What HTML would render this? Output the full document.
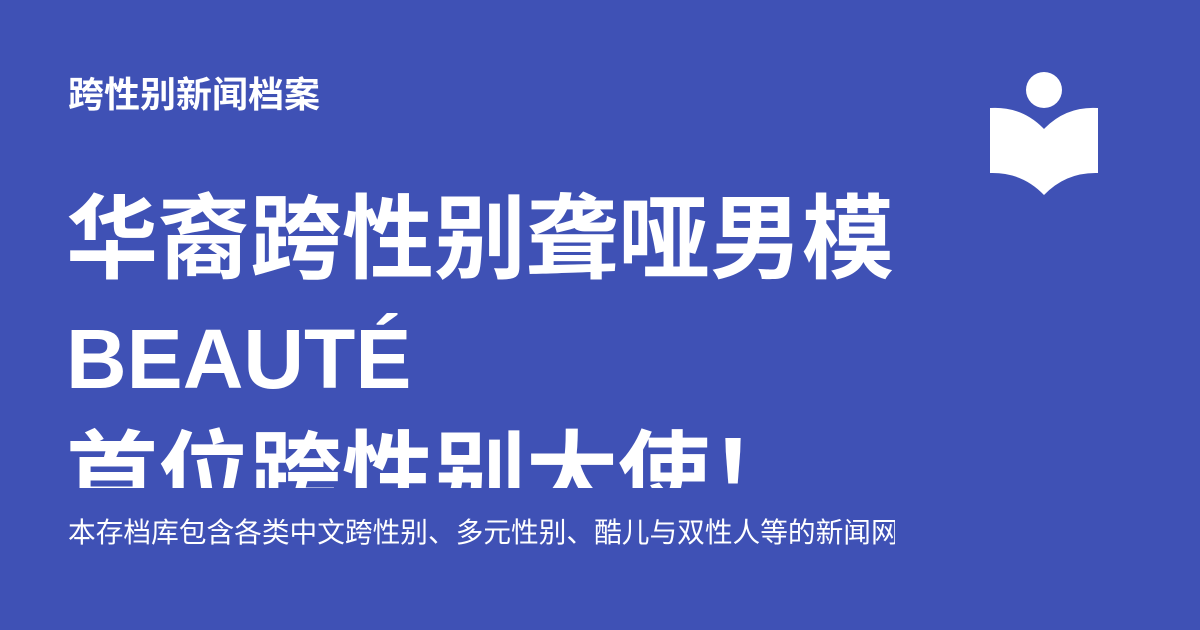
<!DOCTYPE html>
<html><head><meta charset="utf-8"><style>
html,body{margin:0;padding:0}
body{width:1200px;height:630px;background:#3f51b5;position:relative;overflow:hidden;font-family:"Liberation Sans","Noto Sans CJK SC",sans-serif;color:#fff}
.site{position:absolute;left:68px;top:72px;font-size:36px;font-weight:700;line-height:46px}
.title{position:absolute;left:66px;top:182px;width:840px;height:306px;overflow:hidden;font-size:92px;font-weight:700;line-height:117px;white-space:nowrap}
.title .latin{font-size:84px}
.desc{position:absolute;left:68px;top:514px;width:827px;overflow:hidden;white-space:nowrap;font-size:27.7px;line-height:38px}
</style></head><body>
<div class="site">跨性别新闻档案</div>
<div class="title">华裔跨性别聋哑男模<br><span class="latin">BEAUTÉ</span><br>首位跨性别大使！</div>
<div class="desc">本存档库包含各类中文跨性别、多元性别、酷儿与双性人等的新闻网站文章</div>
<svg style="position:absolute;left:980px;top:60px" width="130" height="150" viewBox="0 0 130 150">
<circle cx="64" cy="30" r="18" fill="#fff"/>
<path d="M10 48 Q42 46 64 69 Q86 46 118 48 L118 113 Q86 112 64 135 Q42 112 10 113 Z" fill="#fff"/>
</svg>
</body></html>
